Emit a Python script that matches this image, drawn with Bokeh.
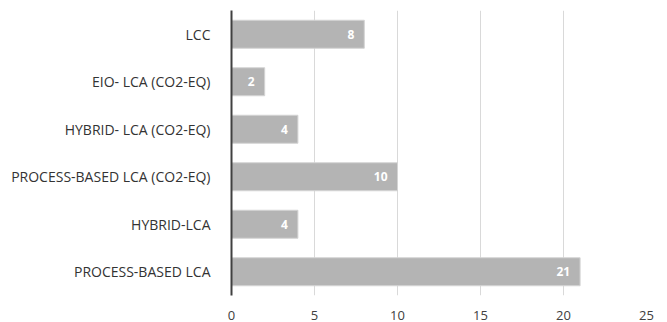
from bokeh.plotting import figure
from bokeh.models import ColumnDataSource, FactorRange, LabelSet
from bokeh.core.properties import value
from bokeh.embed import file_html
from bokeh.resources import INLINE

# Number of studies per assessment method (listed top to bottom)
methods = [
    "LCC",
    "EIO- LCA (CO2-EQ)",
    "HYBRID- LCA (CO2-EQ)",
    "PROCESS-BASED LCA (CO2-EQ)",
    "HYBRID-LCA",
    "PROCESS-BASED LCA",
]
counts = [8, 2, 4, 10, 4, 21]
x_ticks = [0, 5, 10, 15, 20, 25]

src = ColumnDataSource(dict(method=methods, count=counts,
                            label=[str(c) for c in counts]))

p = figure(
    width=667, height=322,
    y_range=FactorRange(*reversed(methods), range_padding=0),
    x_range=(0, 25),
    output_backend="svg", toolbar_location=None,
    min_border_left=231, min_border_right=21,
    min_border_top=10, min_border_bottom=25,
)
p.outline_line_color = None
p.background_fill_color = "white"
p.border_fill_color = "white"

p.hbar(y="method", right="count", left=0, height=0.59, source=src,
       fill_color="#b4b4b4", line_color="#d4d4d4", line_width=1)

labels = LabelSet(x="count", y="method", text="label", source=src,
                  x_offset=-10, text_align="right", text_baseline="middle",
                  text_color="white", text_font=value("Open Sans"),
                  text_font_size="12px", text_font_style="bold")
p.add_layout(labels)

# Grid: vertical lines only
p.ygrid.grid_line_color = None
p.xgrid.grid_line_color = "#d9d9d9"
p.xgrid.grid_line_width = 1
p.xaxis.ticker = x_ticks

# x axis: labels only
p.xaxis.axis_line_color = None
p.xaxis.major_tick_line_color = None
p.xaxis.minor_tick_line_color = None
p.xaxis.major_label_standoff = 9
p.xaxis.major_label_text_font = "Open Sans"
p.xaxis.major_label_text_font_size = "13px"
p.xaxis.major_label_text_color = "#404040"

# y axis: dark baseline at zero with category labels
p.yaxis.axis_line_color = "#404040"
p.yaxis.axis_line_width = 2
p.yaxis.major_tick_line_color = None
p.yaxis.minor_tick_line_color = None
p.yaxis.major_label_standoff = 15
p.yaxis.major_label_text_font = "Open Sans"
p.yaxis.major_label_text_font_size = "14px"
p.yaxis.major_label_text_color = "#333333"

open("out.html", "w").write(file_html(p, INLINE))
